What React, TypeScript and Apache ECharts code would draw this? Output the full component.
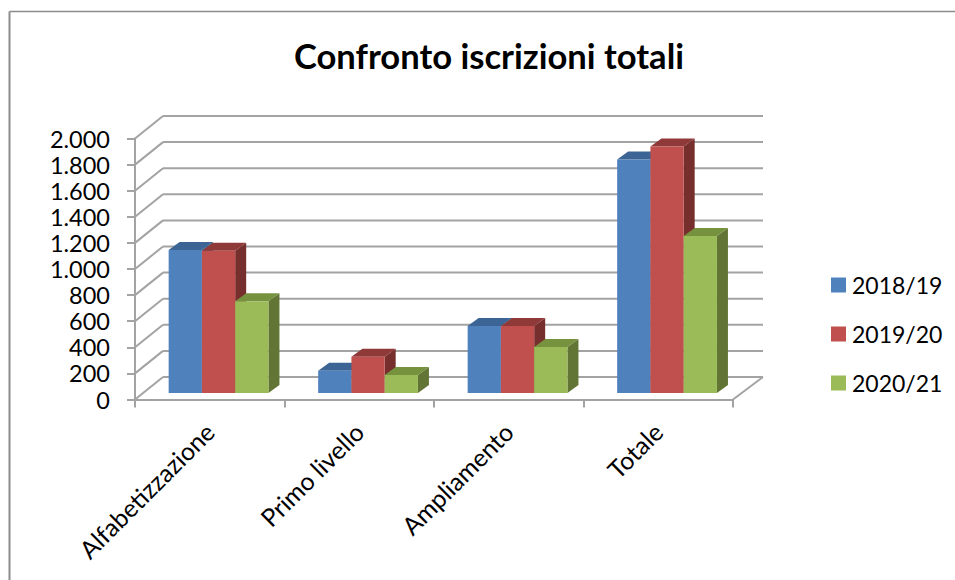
import React, { useEffect, useRef } from "react";
import * as echarts from "echarts";

const categories = ["Alfabetizzazione", "Primo livello", "Ampliamento", "Totale"];
const seriesNames = ["2018/19", "2019/20", "2020/21"];
const values2018 = [1096, 171, 513, 1790];
const values2019 = [1090, 278, 513, 1888];
const values2020 = [703, 138, 352, 1203];
const yTicks = [0, 200, 400, 600, 800, 1000, 1200, 1400, 1600, 1800, 2000];
const titleText = "Confronto iscrizioni totali";

const fills = ["#4F81BD", "#C0504D", "#9BBB59"];
const tops = ["#3C6494", "#8F3A38", "#76923F"];
const sides = ["#385D8A", "#772F2D", "#627534"];
const FONT = "Lato";
const AXIS = "#A3A3A3";

function wallItem(params: any, api: any) {
  const v = api.value(1);
  const cs = params.coordSys;
  const y = api.coord([0, v])[1];
  const dxL = 28;
  const dxR = 30;
  const dy = 22.5;
  const style = { stroke: AXIS, lineWidth: 2, fill: "none" };
  const children: any[] = [
    { type: "line", shape: { x1: cs.x, y1: y, x2: cs.x + dxL, y2: y - dy }, style },
    { type: "line", shape: { x1: cs.x + dxL, y1: y - dy, x2: cs.x + cs.width + dxR, y2: y - dy }, style },
  ];
  if (v === 0) {
    children.push({
      type: "line",
      shape: { x1: cs.x + cs.width, y1: y, x2: cs.x + cs.width + dxR, y2: y - dy },
      style,
    });
  }
  return { type: "group", children };
}

function barItem(idx: number) {
  return (_params: any, api: any) => {
    const cat = api.value(0);
    const val = api.value(1);
    const band = api.size([1, 0])[0];
    const w = band * 0.2225;
    const c = api.coord([cat, 0])[0];
    const y0 = api.coord([cat, 0])[1] - 6.5;
    const yTop = api.coord([cat, val])[1] - 6.5;
    const x = c + 8.8 - 1.5 * w + idx * w;
    const dx = 11;
    const dy = 8;
    return {
      type: "group",
      children: [
        {
          type: "polygon",
          shape: { points: [[x + w, yTop], [x + w + dx, yTop - dy], [x + w + dx, y0 - dy], [x + w, y0]] },
          style: { fill: sides[idx] },
        },
        {
          type: "polygon",
          shape: { points: [[x, yTop], [x + dx, yTop - dy], [x + w + dx, yTop - dy], [x + w, yTop]] },
          style: { fill: tops[idx] },
        },
        { type: "rect", shape: { x, y: yTop, width: w, height: y0 - yTop }, style: { fill: fills[idx] } },
      ],
    };
  };
}

export default function App() {
  const ref = useRef<HTMLDivElement>(null);
  useEffect(() => {
    const chart = echarts.init(ref.current!, null, { renderer: "svg" });
    const dataSets = [values2018, values2019, values2020];
    chart.setOption({
      animation: false,
      backgroundColor: "#FFFFFF",
      title: {
        text: titleText,
        left: 484,
        top: 33,
        textAlign: "center",
        textStyle: { fontFamily: FONT, fontWeight: "bold", fontSize: 34.6, color: "#000" },
      },
      legend: {
        data: seriesNames,
        orient: "vertical",
        left: 826,
        top: 268.5,
        itemWidth: 15,
        itemHeight: 15,
        itemGap: 26,
        icon: "rect",
        textStyle: { fontFamily: FONT, fontSize: 23, color: "#000", padding: [0, 0, 0, 1] },
      },
      grid: { left: 135, top: 138.5, width: 598, height: 261 },
      xAxis: {
        type: "category",
        data: categories,
        axisLine: { lineStyle: { color: AXIS, width: 2 } },
        axisTick: { show: true, length: 8, alignWithLabel: false, lineStyle: { color: AXIS, width: 2 } },
        axisLabel: { rotate: 45, interval: 0, margin: 28, fontFamily: FONT, fontSize: 24.8, color: "#000" },
      },
      yAxis: {
        type: "value",
        min: 0,
        max: 2000,
        interval: 200,
        axisLine: { show: true, lineStyle: { color: AXIS, width: 2 } },
        axisTick: { show: true, length: 8, lineStyle: { color: AXIS, width: 2 } },
        splitLine: { show: false },
        axisLabel: {
          margin: 25,
          fontFamily: FONT,
          fontSize: 23.5,
          color: "#000",
          formatter: (v: number) => (v >= 1000 ? `${Math.floor(v / 1000)}.${String(v % 1000).padStart(3, "0")}` : String(v)),
        },
      },
      graphic: [
        { type: "line", shape: { x1: 9.5, y1: 11.5, x2: 955, y2: 11.5 }, style: { stroke: "#8C8C8C", lineWidth: 1.5 } },
        { type: "line", shape: { x1: 9.5, y1: 11.5, x2: 9.5, y2: 580 }, style: { stroke: "#8C8C8C", lineWidth: 2 } },
      ],
      series: [
        {
          type: "custom",
          name: "walls",
          z: 1,
          silent: true,
          renderItem: wallItem,
          encode: { x: 0, y: 1 },
          data: yTicks.map((t) => [0, t]),
        },
        ...seriesNames.map((name, i) => ({
          type: "custom",
          name,
          z: 2 + i,
          itemStyle: { color: fills[i] },
          renderItem: barItem(i),
          encode: { x: 0, y: 1 },
          data: dataSets[i].map((v, c) => [c, v]),
        })),
      ],
    });
    return () => chart.dispose();
  }, []);
  return <div ref={ref} style={{ position: "fixed", left: 0, top: 0, width: 955, height: 580 }} />;
}
